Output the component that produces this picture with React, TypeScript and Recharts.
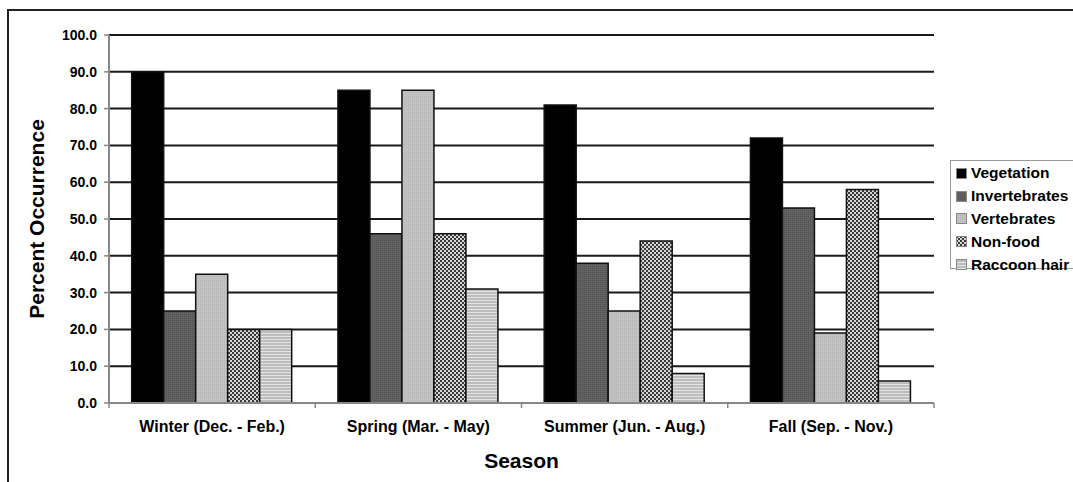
import React from "react";
import {
  BarChart,
  Bar,
  XAxis,
  YAxis,
  CartesianGrid,
} from "recharts";

// Percent occurrence of food items by season
const seasons = [
  "Winter (Dec. - Feb.)",
  "Spring (Mar. - May)",
  "Summer (Jun. - Aug.)",
  "Fall (Sep. - Nov.)",
];
const vegetation = [90, 85, 81, 72];
const invertebrates = [25, 46, 38, 53];
const vertebrates = [35, 85, 25, 19];
const nonFood = [20, 46, 44, 58];
const raccoonHair = [20, 31, 8, 6];
const yTicks = [0, 10, 20, 30, 40, 50, 60, 70, 80, 90, 100];

const SERIES = [
  { key: "vegetation", name: "Vegetation", fill: "#000000" },
  { key: "invertebrates", name: "Invertebrates", fill: "url(#patInvert)" },
  { key: "vertebrates", name: "Vertebrates", fill: "url(#patVert)" },
  { key: "nonFood", name: "Non-food", fill: "url(#patNonFood)" },
  { key: "raccoonHair", name: "Raccoon hair", fill: "url(#patHair)" },
];

const data = seasons.map((season, i) => ({
  season,
  vegetation: vegetation[i],
  invertebrates: invertebrates[i],
  vertebrates: vertebrates[i],
  nonFood: nonFood[i],
  raccoonHair: raccoonHair[i],
}));

const FONT = "'Liberation Sans', Arial, sans-serif";

const Patterns = () => (
  <svg width={0} height={0} style={{ position: "absolute" }}>
    <defs>
      <pattern id="patInvert" width={2} height={2} patternUnits="userSpaceOnUse">
        <rect width={2} height={2} fill="#626262" />
        <rect width={1} height={1} fill="#515151" />
      </pattern>
      <pattern id="patVert" width={2} height={2} patternUnits="userSpaceOnUse">
        <rect width={2} height={2} fill="#c2c2c2" />
        <rect width={1} height={1} fill="#b4b4b4" />
      </pattern>
      <pattern id="patNonFood" width={4} height={4} patternUnits="userSpaceOnUse">
        <rect width={4} height={4} fill="#d6d6d6" />
        <rect width={2} height={2} fill="#3a3a3a" />
        <rect x={2} y={2} width={2} height={2} fill="#3a3a3a" />
      </pattern>
      <pattern id="patHair" width={3} height={3} patternUnits="userSpaceOnUse">
        <rect width={3} height={3} fill="#bdbdbd" />
        <rect width={3} height={1} fill="#e4e4e4" />
      </pattern>
    </defs>
  </svg>
);

const SeasonTick = (props: any) => {
  const { x, y, payload, index } = props;
  const off = payload?.offset ?? 0;
  const lineY = y - 18;
  return (
    <g>
      <line x1={x - off} x2={x - off} y1={lineY} y2={lineY + 5} stroke="#888" strokeWidth={1.5} />
      {index === seasons.length - 1 && (
        <line x1={x + off} x2={x + off} y1={lineY} y2={lineY + 5} stroke="#888" strokeWidth={1.5} />
      )}
      <text
        x={x}
        y={y}
        dy={11}
        textAnchor="middle"
        fill="#000"
        fontSize={16}
        fontWeight="bold"
        fontFamily={FONT}
      >
        {payload.value}
      </text>
    </g>
  );
};

const LegendBox = () => (
  <div
    style={{
      position: "absolute",
      left: 950,
      top: 160,
      width: 125,
      height: 109,
      border: "1px solid #999",
      boxSizing: "border-box",
      paddingTop: 1,
      paddingLeft: 5,
      fontFamily: FONT,
      fontWeight: "bold",
      fontSize: 15.5,
      color: "#000",
      background: "#fff",
    }}
  >
    {SERIES.map((s) => (
      <div key={s.key} style={{ display: "flex", alignItems: "center", height: 22.8, whiteSpace: "nowrap" }}>
        <svg width={11} height={11} style={{ marginRight: 4, flex: "none" }}>
          <rect x={0.5} y={0.5} width={10} height={10} fill={s.fill} stroke="#888" strokeWidth={1} />
        </svg>
        <span>{s.name}</span>
      </div>
    ))}
  </div>
);

export default function App() {
  return (
    <div
      style={{
        position: "absolute",
        left: 0,
        top: 0,
        width: 1073,
        height: 482,
        overflow: "hidden",
        background: "#fff",
        fontFamily: FONT,
      }}
    >
      <Patterns />
      <div
        style={{
          position: "absolute",
          left: 7,
          top: 9,
          width: 1100,
          height: 500,
          border: "2px solid #222",
        }}
      />
      <div style={{ position: "absolute", left: 0, top: 0 }}>
        <BarChart
          width={1073}
          height={482}
          data={data}
          margin={{ top: 35, right: 139, bottom: 0, left: 0 }}
          barCategoryGap="11%"
          barGap={0}
        >
          <CartesianGrid vertical={false} stroke="#000" strokeWidth={2} strokeOpacity={0.9} />
          <XAxis
            dataKey="season"
            height={79}
            tickLine={false}
            tickSize={5}
            tickMargin={13}
            axisLine={{ stroke: "#888", strokeWidth: 2 }}
            tick={<SeasonTick />}
            interval={0}
            label={{
              value: "Season",
              position: "insideBottom",
              offset: 14,
              fill: "#000",
              fontSize: 21,
              fontWeight: "bold",
              fontFamily: FONT,
            }}
          />
          <XAxis
            dataKey="season"
            xAxisId="top"
            orientation="top"
            height={0}
            tick={false}
            tickLine={false}
            axisLine={{ stroke: "#999", strokeWidth: 2 }}
          />
          <YAxis
            domain={[0, 100]}
            ticks={yTicks}
            interval={0}
            width={109}
            tickSize={5}
            tickMargin={7}
            tickFormatter={(v: number) => v.toFixed(1)}
            tick={{ fill: "#000", fontSize: 14, fontWeight: "bold", fontFamily: FONT }}
            tickLine={{ stroke: "#888", strokeWidth: 1.5 }}
            axisLine={{ stroke: "#888", strokeWidth: 2 }}
            label={{
              value: "Percent Occurrence",
              angle: -90,
              position: "insideLeft",
              offset: 37,
              fill: "#000",
              fontSize: 21,
              fontWeight: "bold",
              fontFamily: FONT,
              style: { textAnchor: "middle" },
            }}
          />
          <YAxis
            yAxisId="right"
            orientation="right"
            width={0}
            tick={false}
            tickLine={false}
            axisLine={{ stroke: "#999", strokeWidth: 2 }}
          />
          {SERIES.map((s) => (
            <Bar
              key={s.key}
              dataKey={s.key}
              name={s.name}
              fill={s.fill}
              stroke="#111"
              strokeWidth={1.5}
              isAnimationActive={false}
            />
          ))}
        </BarChart>
      </div>
      <LegendBox />
    </div>
  );
}
